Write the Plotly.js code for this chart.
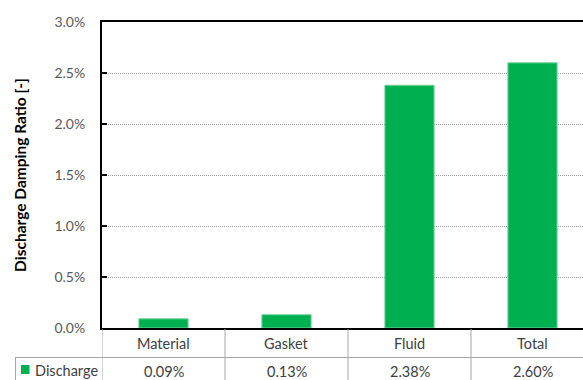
<!DOCTYPE html>
<html>
<head>
<meta charset="utf-8">
<script src="https://cdn.plot.ly/plotly-3.0.1.min.js"></script>
<style>
  html, body { margin: 0; padding: 0; overflow: hidden; background: #fff; }
  #chart { width: 600px; height: 380px; }
</style>
</head>
<body>
<div id="chart"></div>
<script>
// Damping ratio contributions for the discharge side
const categories = ['Material', 'Gasket', 'Fluid', 'Total'];
const seriesName = 'Discharge';
const dampingRatio = [0.0009, 0.0013, 0.0238, 0.0260];
const yTickValues = [0, 0.005, 0.010, 0.015, 0.020, 0.025, 0.030];

const barColor = '#00B050';
const gridGray = '#A0A0A0';
const tableGray = '#A6A6A6';
const textGray = '#595959';
const fontFamily = 'Lato, "Open Sans", sans-serif';

// Figure geometry (pixels)
const W = 600, H = 380;
const M = { l: 102, r: 6, t: 22, b: 52 };
const plotW = W - M.l - M.r;
const plotH = H - M.t - M.b;
const paperX = x => (x - M.l) / plotW;
const paperY = y => (H - M.b - y) / plotH;

const fmtPct = v => (v * 100).toFixed(2) + '%';

// Data table grid below the plot
const shapes = [];
for (let i = 0; i <= categories.length; i++) {
  shapes.push({
    type: 'line', xref: 'x', yref: 'paper',
    x0: i - 0.5, x1: i - 0.5, y0: paperY(329), y1: paperY(400),
    line: { color: tableGray, width: 1 }
  });
}
shapes.push({
  type: 'line', xref: 'paper', yref: 'paper',
  x0: paperX(15), x1: paperX(700), y0: paperY(357.5), y1: paperY(357.5),
  line: { color: tableGray, width: 1 }
});
shapes.push({
  type: 'line', xref: 'paper', yref: 'paper',
  x0: paperX(15.5), x1: paperX(15.5), y0: paperY(357.5), y1: paperY(400),
  line: { color: tableGray, width: 1 }
});
// Legend key in the table's first column
shapes.push({
  type: 'rect', xref: 'paper', yref: 'paper',
  x0: paperX(21), x1: paperX(29.5), y0: paperY(374), y1: paperY(365),
  fillcolor: barColor, line: { width: 0 }
});

const tableFont = { family: fontFamily, size: 14.5, color: '#404040' };
const annotations = [];
categories.forEach((c, i) => {
  annotations.push({
    xref: 'x', yref: 'paper', x: i, y: paperY(343),
    text: c, showarrow: false, xanchor: 'center', yanchor: 'middle',
    font: tableFont
  });
  annotations.push({
    xref: 'x', yref: 'paper', x: i, y: paperY(371),
    text: fmtPct(dampingRatio[i]), showarrow: false, xanchor: 'center', yanchor: 'middle',
    font: tableFont
  });
});
annotations.push({
  xref: 'paper', yref: 'paper', x: paperX(33), y: paperY(370),
  text: seriesName, showarrow: false, xanchor: 'left', yanchor: 'middle',
  font: tableFont
});

const trace = {
  type: 'bar',
  x: categories,
  y: dampingRatio,
  name: seriesName,
  marker: { color: barColor, line: { color: '#6FD49A', width: 1 } },
  hoverinfo: 'skip'
};

const layout = {
  width: W, height: H,
  margin: M,
  paper_bgcolor: '#fff',
  plot_bgcolor: '#fff',
  showlegend: false,
  bargap: 0.6,
  font: { family: fontFamily, color: textGray },
  xaxis: {
    type: 'category',
    range: [-0.5, categories.length - 0.5],
    showticklabels: false,
    ticks: '',
    showgrid: false,
    zeroline: false,
    showline: true, linecolor: '#000', linewidth: 2, mirror: true,
    fixedrange: true
  },
  yaxis: {
    range: [0, 0.03],
    tickvals: yTickValues,
    tickformat: '.1%',
    ticks: 'inside', ticklen: 5, tickwidth: 1.5, tickcolor: '#000',
    ticklabelstandoff: 12,
    tickfont: { family: fontFamily, size: 14, color: textGray },
    showgrid: true, gridcolor: gridGray, gridwidth: 1, griddash: '1px,1px',
    zeroline: false,
    showline: true, linecolor: '#000', linewidth: 2, mirror: true,
    title: {
      text: 'Discharge Damping Ratio [-]',
      font: { family: fontFamily, size: 15.5, color: '#000', weight: 'bold' },
      standoff: 24
    },
    fixedrange: true
  },
  shapes: shapes,
  annotations: annotations
};

Plotly.newPlot('chart', [trace], layout, { displayModeBar: false, staticPlot: true });
</script>
</body>
</html>
